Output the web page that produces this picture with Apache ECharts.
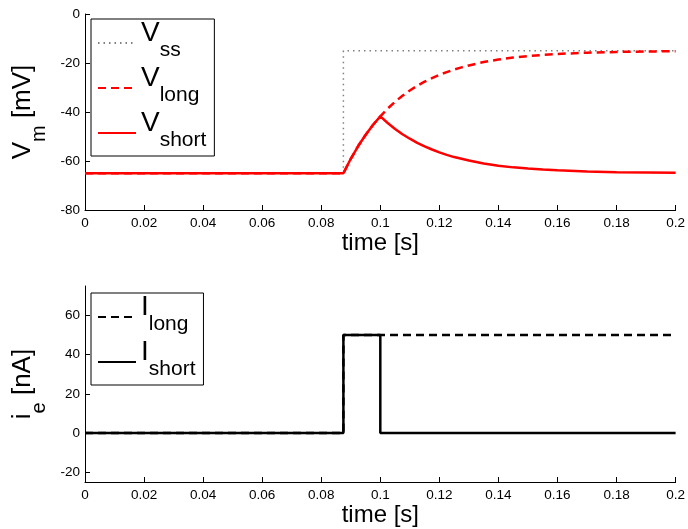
<!DOCTYPE html>
<html>
<head>
<meta charset="utf-8">
<script src="https://cdn.jsdelivr.net/npm/echarts@6/dist/echarts.min.js"></script>
<style>
html,body{margin:0;padding:0;background:#fff;}
#c{width:688px;height:529px;}
</style>
</head>
<body>
<div id="c"></div>
<script>
// ---- data ----
var xTicks = [0, 0.02, 0.04, 0.06, 0.08, 0.1, 0.12, 0.14, 0.16, 0.18, 0.2];
var vTicks = [-80, -60, -40, -20, 0];
var iTicks = [-20, 0, 20, 40, 60];

var tSs = [0, 0.0875, 0.0875, 0.2];
var vSs = [-65, -65, -15, -15];

var tV = [0, 0.0875, 0.09, 0.0925, 0.095, 0.0975, 0.1, 0.1025, 0.105, 0.1075, 0.11, 0.1125, 0.115, 0.1175, 0.12, 0.1225, 0.125, 0.1275, 0.13, 0.135, 0.14, 0.145, 0.15, 0.155, 0.16, 0.17, 0.18, 0.19, 0.2];
var vLong = [-65, -65, -59.1, -53.9, -49.4, -45.3, -41.8, -38.6, -35.8, -33.4, -31.2, -29.3, -27.6, -26.2, -24.8, -23.7, -22.7, -21.8, -21.0, -19.6, -18.6, -17.8, -17.2, -16.7, -16.3, -15.8, -15.5, -15.3, -15.2];
var vShort = [-65, -65, -59.1, -53.9, -49.4, -45.3, -41.8, -44.5, -46.9, -49.1, -50.9, -52.6, -54.0, -55.3, -56.5, -57.5, -58.4, -59.1, -59.8, -61.0, -61.9, -62.6, -63.1, -63.5, -63.8, -64.3, -64.6, -64.7, -64.8];

var tILong = [0, 0.0875, 0.0875, 0.2];
var iLong = [0, 0, 50, 50];
var tIShort = [0, 0.0875, 0.0875, 0.1, 0.1, 0.2];
var iShort = [0, 0, 50, 50, 0, 0];

function pairs(xs, ys) { return xs.map(function (x, i) { return [x, ys[i]]; }); }

var FONT = 'Liberation Sans';
var RED = '#ff0000';

var legendRich = {
  a: { fontSize: 28, lineHeight: 28, verticalAlign: 'top', fontFamily: FONT, color: '#000' },
  b: { fontSize: 21, lineHeight: 21, padding: [21, 0, 0, 0], verticalAlign: 'top', fontFamily: FONT, color: '#000' }
};
var nameRich = {
  a: { fontSize: 26, lineHeight: 26, verticalAlign: 'top', fontFamily: FONT, color: '#000' },
  b: { fontSize: 20, lineHeight: 20, padding: [20, 0, 0, 0], verticalAlign: 'top', fontFamily: FONT, color: '#000' }
};

function xAxis(gi) {
  return {
    type: 'value', gridIndex: gi, min: 0, max: 0.2, interval: 0.02,
    name: 'time [s]', nameLocation: 'middle', nameGap: 20,
    nameTextStyle: { fontSize: 24, fontFamily: FONT, color: '#000' },
    axisLine: { show: true, onZero: false, lineStyle: { color: '#000', width: 1 } },
    axisTick: { show: true, inside: true, length: 5, lineStyle: { color: '#000' } },
    axisLabel: { fontSize: 13.5, fontFamily: FONT, color: '#000', margin: 6 },
    splitLine: { show: false }
  };
}

function legendBox(top, names) {
  return {
    left: 91, top: top, orient: 'vertical',
    data: names.map(function (n) { return { name: n }; }),
    itemWidth: 38, itemHeight: 14, itemGap: 3,
    padding: [0, 8, 5, 6],
    borderColor: '#000', borderWidth: 1, backgroundColor: '#fff',
    itemStyle: { color: 'rgba(0,0,0,0)', borderWidth: 0, opacity: 0 },
    textStyle: { rich: legendRich, padding: [0, 0, 20, 0] },
    selectedMode: false
  };
}

var option = {
  animation: false,
  backgroundColor: '#fff',
  grid: [
    { left: 85, right: 9, top: 14, height: 196 },
    { left: 85, right: 9, top: 286, height: 196 }
  ],
  xAxis: [xAxis(0), xAxis(1)],
  yAxis: [
    {
      type: 'value', gridIndex: 0, min: -80, max: 0, interval: 20,
      name: '{a|V}{b|m}{a| [mV]}', nameLocation: 'middle', nameGap: 34,
      nameTextStyle: { rich: nameRich },
      axisLine: { show: true, lineStyle: { color: '#000', width: 1 } },
      axisTick: { show: true, inside: true, length: 5, lineStyle: { color: '#000' } },
      axisLabel: { fontSize: 13.5, fontFamily: FONT, color: '#000', margin: 5 },
      splitLine: { show: false }
    },
    {
      type: 'value', gridIndex: 1, min: -25, max: 75,
      name: '{a|i}{b|e}{a| [nA]}', nameLocation: 'middle', nameGap: 34,
      nameTextStyle: { rich: nameRich },
      axisLine: { show: true, onZero: false, lineStyle: { color: '#000', width: 1 } },
      axisTick: { show: true, inside: true, length: 5, lineStyle: { color: '#000' }, customValues: iTicks },
      axisLabel: { fontSize: 13.5, fontFamily: FONT, color: '#000', margin: 5, customValues: iTicks },
      splitLine: { show: false }
    }
  ],
  legend: [
    legendBox(19, ['{a|V}{b|ss}', '{a|V}{b|long}', '{a|V}{b|short}']),
    legendBox(293, ['{a|I}{b|long}', '{a|I}{b|short}'])
  ],
  series: [
    {
      name: '{a|V}{b|ss}', type: 'line', xAxisIndex: 0, yAxisIndex: 0,
      data: pairs(tSs, vSs), symbol: 'none',
      lineStyle: { color: '#808080', width: 1.5, type: [1.5, 4] }, itemStyle: { color: '#808080' }
    },
    {
      name: '{a|V}{b|long}', type: 'line', xAxisIndex: 0, yAxisIndex: 0,
      data: pairs(tV, vLong), symbol: 'none',
      lineStyle: { color: RED, width: 2.5, type: [8, 5] }, itemStyle: { color: RED }
    },
    {
      name: '{a|V}{b|short}', type: 'line', xAxisIndex: 0, yAxisIndex: 0,
      data: pairs(tV, vShort), symbol: 'none',
      lineStyle: { color: RED, width: 2.5 }, itemStyle: { color: RED }
    },
    {
      name: '{a|I}{b|long}', type: 'line', xAxisIndex: 1, yAxisIndex: 1,
      data: pairs(tILong, iLong), symbol: 'none',
      lineStyle: { color: '#000', width: 2.5, type: [8, 5] }, itemStyle: { color: '#000' }
    },
    {
      name: '{a|I}{b|short}', type: 'line', xAxisIndex: 1, yAxisIndex: 1,
      data: pairs(tIShort, iShort), symbol: 'none',
      lineStyle: { color: '#000', width: 2.5 }, itemStyle: { color: '#000' }
    }
  ]
};

var chart = echarts.init(document.getElementById('c'), null, { renderer: 'canvas' });
chart.setOption(option);
</script>
</body>
</html>
